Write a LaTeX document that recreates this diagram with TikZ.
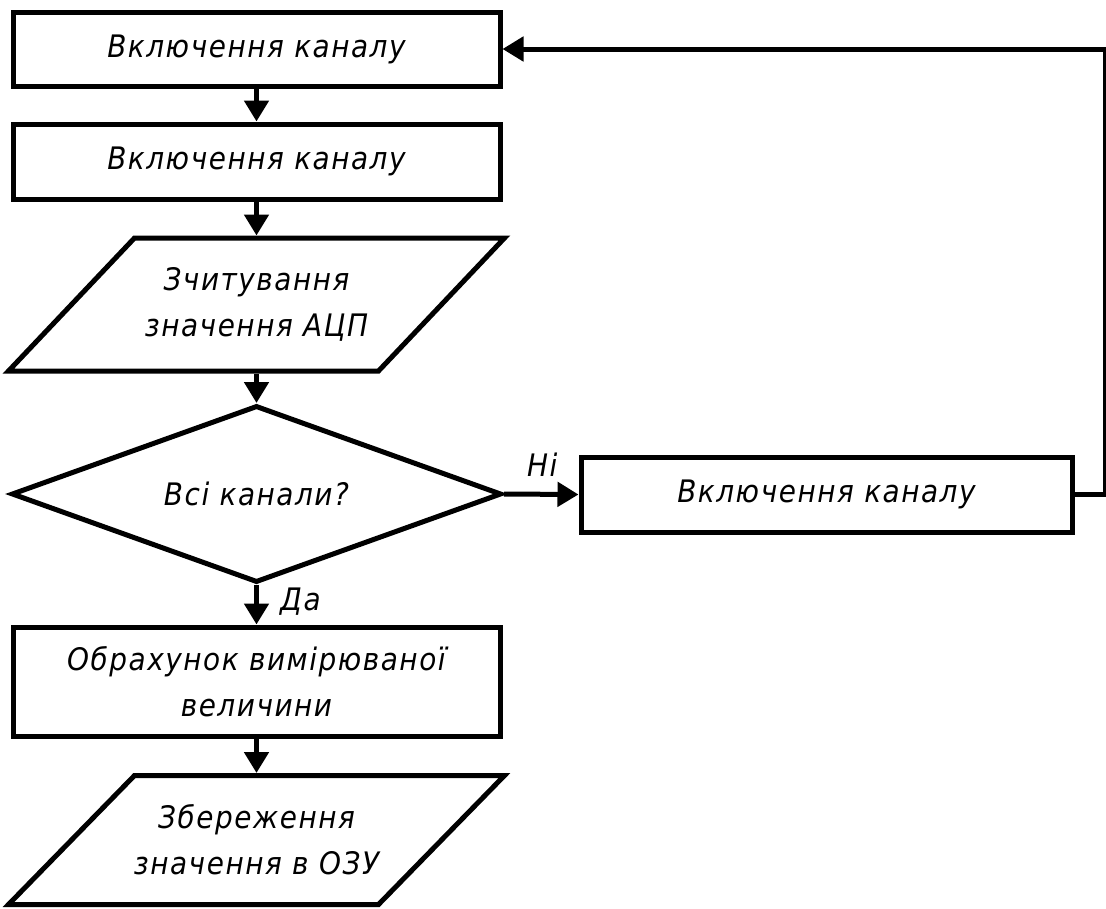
\documentclass[tikz,border=0pt]{standalone}
\usepackage{fontspec}
\setmainfont{DejaVu Sans Condensed}[LetterSpace=5]
\usetikzlibrary{arrows.meta,shapes.geometric,calc}

\begin{document}
\begin{tikzpicture}[x=1pt,y=-1pt,
  txt/.style={font=\fontsize{31}{46}\selectfont\itshape},
  thick line/.style={line width=5pt, line join=miter},
  flow/.style={thick line, -{Triangle[length=21pt,width=24pt]}},
  procbox/.style={txt, draw, thick line, rectangle, minimum width=487pt,
    inner sep=0pt, align=center},
  iobox/.style={txt, rectangle, minimum width=365pt, minimum height=133pt,
    inner sep=0pt, outer sep=2.5pt, align=center},
  decision/.style={txt, draw, thick line, diamond, aspect=2.77,
    minimum width=490pt, minimum height=177pt, inner sep=0pt},
  lbl/.style={txt, inner sep=0pt, anchor=base west}
]
\useasboundingbox (0,0) rectangle (1106,908);

% process blocks
\node[procbox, minimum height=74pt] (on1) at (256.5,49) {Включення каналу};
\node[procbox, minimum height=75pt] (on2) at (256.5,161.5) {Включення каналу};
\node[iobox] (read) at (256.5,304.5) {Зчитування\\значення АЦП};
\node[decision] (all) at (256.5,494) {Всі канали?};
\node[procbox, minimum width=491pt, minimum height=75pt] (on3) at (826.5,494.5) {Включення каналу};
\node[procbox, minimum height=109pt] (calcv) at (256.5,681.5) {Обрахунок вимірюваної\\величини};
\node[iobox, minimum height=129pt] (store) at (256.5,840) {Збереження\\значення в ОЗУ};

% input/output parallelograms
\foreach \n in {read,store}{
  \draw[thick line] ($(\n.north west)+(63,2.5)$) -- ($(\n.north east)+(63,2.5)$)
    -- ($(\n.south east)+(-63,-2.5)$) -- ($(\n.south west)+(-63,-2.5)$) -- cycle;
}

% branch labels
\node[lbl] (no) at (527,476) {Ні};
\node[lbl] (yes) at (280,610) {Да};

% connectors
\draw[flow] (on1) -- (on2);
\draw[flow] (on2) -- (read);
\draw[flow] (read) -- (all);
\draw[flow] (all.south) -- (calcv.north);
\draw[flow] (calcv) -- (store);
\draw[flow] (all.east) -- (on3.west);
\draw[flow] (on3.east) -- ++(31,0) |- (on1.east);
\end{tikzpicture}
\end{document}
